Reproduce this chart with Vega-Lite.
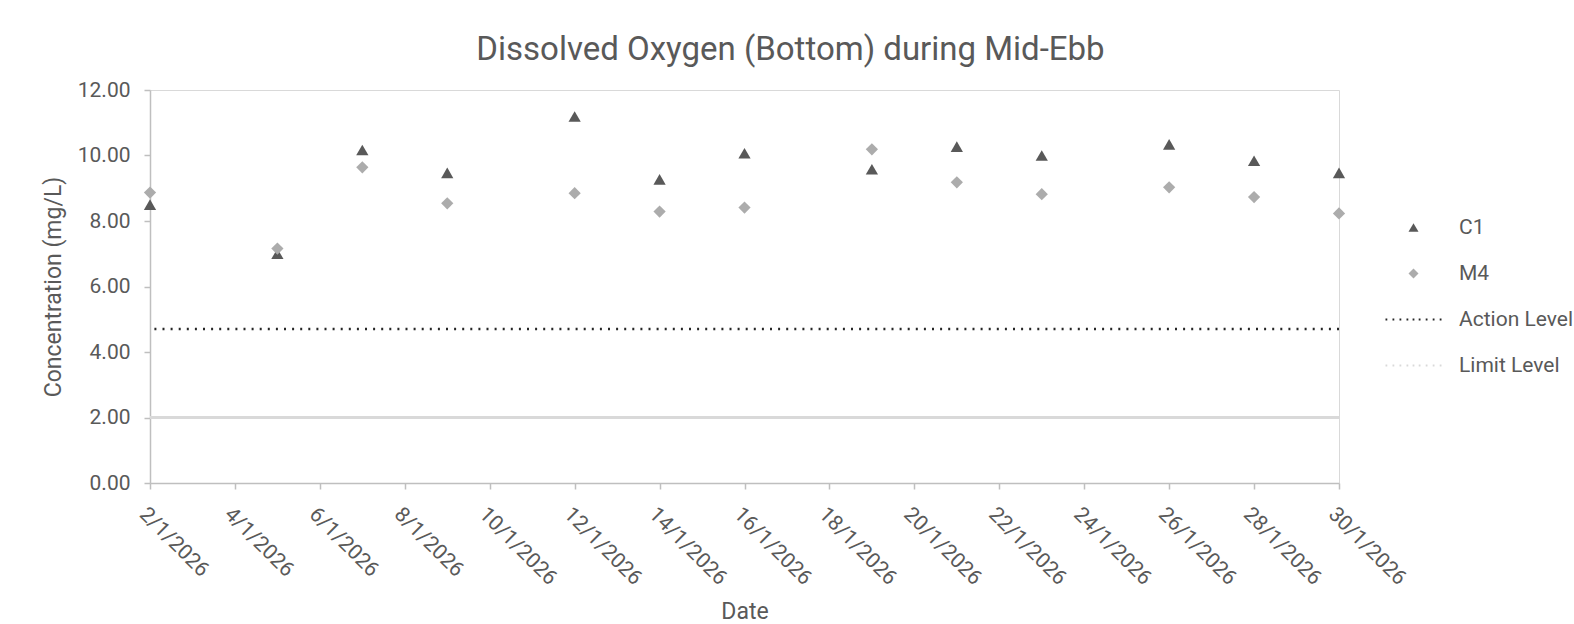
{
  "$schema": "https://vega.github.io/schema/vega-lite/v6.json",
  "width": 1189,
  "height": 393,
  "autosize": {"type": "none"},
  "padding": {"left": 150, "top": 90, "right": 235, "bottom": 141},
  "background": "white",
  "title": {
    "text": "Dissolved Oxygen (Bottom) during Mid-Ebb",
    "fontSize": 33,
    "font": "Roboto",
    "fontWeight": "normal",
    "color": "#595959",
    "anchor": "middle",
    "dx": 46,
    "offset": 12
  },
  "config": {
    "font": "Roboto",
    "view": {"stroke": "#d9d9d9", "strokeWidth": 1},
    "axis": {
      "grid": false,
      "domainColor": "#bfbfbf",
      "domainWidth": 1.5,
      "tickColor": "#bfbfbf",
      "tickWidth": 1.5,
      "tickSize": 6,
      "labelColor": "#595959",
      "labelFontSize": 21,
      "titleColor": "#595959",
      "titleFontSize": 23,
      "titleFontWeight": "normal"
    }
  },
  "layer": [
    {
      "data": {"values": [{"level": "Limit Level", "value": 2}]},
      "mark": {"type": "rule", "color": "#d9d9d9", "strokeWidth": 3},
      "encoding": {"y": {"field": "value", "type": "quantitative"}}
    },
    {
      "data": {"values": [{"level": "Action Level", "value": 4.7}]},
      "mark": {"type": "rule", "color": "#262626", "strokeWidth": 2.5, "strokeDash": [2, 6.1]},
      "encoding": {"y": {"field": "value", "type": "quantitative"}}
    },
    {
      "data": {
        "values": [
          {"date": "2026-01-02", "series": "C1", "value": 8.5},
          {"date": "2026-01-05", "series": "C1", "value": 7.0},
          {"date": "2026-01-07", "series": "C1", "value": 10.17},
          {"date": "2026-01-09", "series": "C1", "value": 9.47},
          {"date": "2026-01-12", "series": "C1", "value": 11.19},
          {"date": "2026-01-14", "series": "C1", "value": 9.27},
          {"date": "2026-01-16", "series": "C1", "value": 10.07},
          {"date": "2026-01-19", "series": "C1", "value": 9.58},
          {"date": "2026-01-21", "series": "C1", "value": 10.27},
          {"date": "2026-01-23", "series": "C1", "value": 10.0},
          {"date": "2026-01-26", "series": "C1", "value": 10.34},
          {"date": "2026-01-28", "series": "C1", "value": 9.84},
          {"date": "2026-01-30", "series": "C1", "value": 9.47},
          {"date": "2026-01-02", "series": "M4", "value": 8.87},
          {"date": "2026-01-05", "series": "M4", "value": 7.16},
          {"date": "2026-01-07", "series": "M4", "value": 9.64},
          {"date": "2026-01-09", "series": "M4", "value": 8.54},
          {"date": "2026-01-12", "series": "M4", "value": 8.85},
          {"date": "2026-01-14", "series": "M4", "value": 8.29},
          {"date": "2026-01-16", "series": "M4", "value": 8.41},
          {"date": "2026-01-19", "series": "M4", "value": 10.19},
          {"date": "2026-01-21", "series": "M4", "value": 9.18},
          {"date": "2026-01-23", "series": "M4", "value": 8.82},
          {"date": "2026-01-26", "series": "M4", "value": 9.03},
          {"date": "2026-01-28", "series": "M4", "value": 8.73},
          {"date": "2026-01-30", "series": "M4", "value": 8.23}
        ]
      },
      "mark": {"type": "point", "filled": true, "opacity": 1, "size": 150, "strokeWidth": 0},
      "encoding": {
        "x": {
          "field": "date",
          "type": "temporal",
          "scale": {
            "type": "utc",
            "domain": [
              {"year": 2026, "month": 1, "date": 2, "utc": true},
              {"year": 2026, "month": 1, "date": 30, "utc": true}
            ]
          },
          "axis": {
            "title": "Date",
            "format": "%-d/%-m/%Y",
            "labelAngle": 45,
            "labelAlign": "left",
            "labelBaseline": "top",
            "labelPadding": 14,
            "titlePadding": 12,
            "labelOverlap": false,
            "values": [
              {"year": 2026, "month": 1, "date": 2, "utc": true},
              {"year": 2026, "month": 1, "date": 4, "utc": true},
              {"year": 2026, "month": 1, "date": 6, "utc": true},
              {"year": 2026, "month": 1, "date": 8, "utc": true},
              {"year": 2026, "month": 1, "date": 10, "utc": true},
              {"year": 2026, "month": 1, "date": 12, "utc": true},
              {"year": 2026, "month": 1, "date": 14, "utc": true},
              {"year": 2026, "month": 1, "date": 16, "utc": true},
              {"year": 2026, "month": 1, "date": 18, "utc": true},
              {"year": 2026, "month": 1, "date": 20, "utc": true},
              {"year": 2026, "month": 1, "date": 22, "utc": true},
              {"year": 2026, "month": 1, "date": 24, "utc": true},
              {"year": 2026, "month": 1, "date": 26, "utc": true},
              {"year": 2026, "month": 1, "date": 28, "utc": true},
              {"year": 2026, "month": 1, "date": 30, "utc": true}
            ]
          }
        },
        "y": {
          "field": "value",
          "type": "quantitative",
          "scale": {"domain": [0, 12], "nice": false},
          "axis": {
            "title": "Concentration (mg/L)",
            "values": [0, 2, 4, 6, 8, 10, 12],
            "format": ".2f",
            "labelPadding": 14,
            "titlePadding": 12
          }
        },
        "color": {
          "field": "series",
          "type": "nominal",
          "scale": {
            "domain": ["C1", "M4", "Action Level", "Limit Level"],
            "range": ["#595959", "#acacac", "#262626", "#d9d9d9"]
          },
          "legend": {
            "title": null,
            "orient": "none",
            "legendX": 1253,
            "legendY": 127,
            "padding": 0,
            "labelFontSize": 21,
            "labelColor": "#595959",
            "labelOffset": 35,
            "rowPadding": 24,
            "symbolStrokeWidth": 0,
            "symbolOpacity": 1
          }
        },
        "shape": {
          "field": "series",
          "type": "nominal",
          "scale": {
            "domain": ["C1", "M4", "Action Level", "Limit Level"],
            "range": [
              "triangle-up",
              "diamond",
              "M-5.6,-0.18h0.36v0.36h-0.36Z M-4.2,-0.18h0.36v0.36h-0.36Z M-2.8,-0.18h0.36v0.36h-0.36Z M-1.4,-0.18h0.36v0.36h-0.36Z M-0.18,-0.18h0.36v0.36h-0.36Z M1.04,-0.18h0.36v0.36h-0.36Z M2.44,-0.18h0.36v0.36h-0.36Z M3.84,-0.18h0.36v0.36h-0.36Z M5.24,-0.18h0.36v0.36h-0.36Z",
              "M-5.6,-0.18h0.36v0.36h-0.36Z M-4.2,-0.18h0.36v0.36h-0.36Z M-2.8,-0.18h0.36v0.36h-0.36Z M-1.4,-0.18h0.36v0.36h-0.36Z M-0.18,-0.18h0.36v0.36h-0.36Z M1.04,-0.18h0.36v0.36h-0.36Z M2.44,-0.18h0.36v0.36h-0.36Z M3.84,-0.18h0.36v0.36h-0.36Z M5.24,-0.18h0.36v0.36h-0.36Z"
            ]
          }
        }
      }
    }
  ]
}
